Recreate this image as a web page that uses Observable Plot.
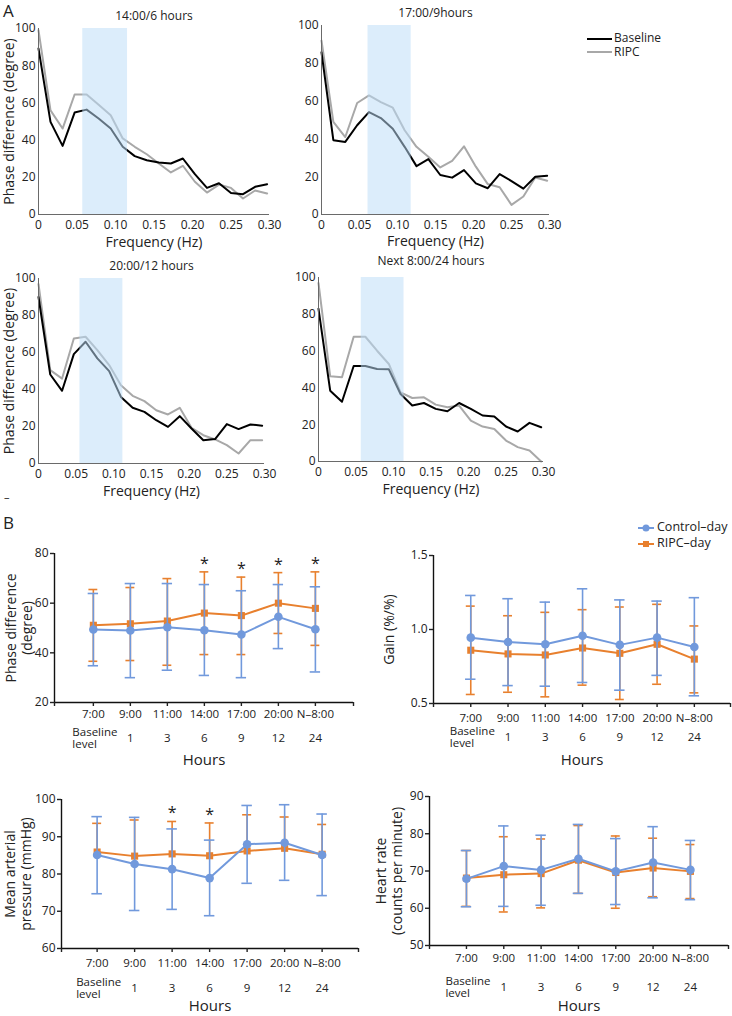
<!DOCTYPE html>
<html><head><meta charset="utf-8">
<script src="https://cdn.jsdelivr.net/npm/d3@7"></script>
<script src="https://cdn.jsdelivr.net/npm/@observablehq/plot@0.6"></script>
<style>
body{margin:0;background:#fff;font-family:"Open Sans",sans-serif;}
#root{position:relative;width:732px;height:1016px;overflow:hidden;background:#fff;}
.pnl{position:absolute;}
.lbl{position:absolute;font-family:"Open Sans",sans-serif;color:#222;white-space:nowrap;line-height:1;}
</style></head><body><div id="root"></div>
<script>
// ---------- Panel A data ----------
const freqs = [0,0.0156,0.0313,0.0469,0.0625,0.0781,0.0938,0.1094,0.125,0.1406,0.1563,0.1719,0.1875,0.2031,0.2188,0.2344,0.25,0.2656,0.2813,0.2969];
const panelTitles = ["14:00/6 hours","17:00/9hours","20:00/12 hours","Next 8:00/24 hours"];
const baseline6h  = [89.2,49.8,36.9,54.8,56.4,51.6,46.2,36.4,31.4,29.2,28.0,27.4,30.1,21.7,14.3,16.8,11.6,10.9,14.9,16.3];
const ripc6h      = [99.0,56.0,46.2,64.5,64.5,59.0,53.4,40.9,36.4,32.4,27.4,22.6,26.2,17.6,11.8,16.1,14.3,8.6,12.9,11.3];
const baseline9h  = [85.8,39.3,38.4,47.2,54.2,51.0,45.4,35.8,25.6,29.3,20.9,19.5,23.5,16.5,13.9,21.4,17.7,13.7,20.0,20.5];
const ripc9h      = [92.0,49.0,41.0,59.0,63.0,59.5,56.5,44.6,35.8,30.5,24.9,28.4,36.1,25.3,16.1,14.4,5.1,9.5,19.6,17.9];
const baseline12h = [90.0,48.1,39.3,59.1,65.8,56.8,49.9,36.0,30.1,27.9,23.4,19.8,25.6,18.9,12.6,13.2,21.3,18.6,21.1,20.4];
const ripc12h     = [97.0,50.5,45.9,67.6,68.5,61.3,53.2,42.3,36.6,33.7,28.8,26.5,30.1,19.3,15.3,13.0,9.9,5.4,12.6,12.6];
const baseline24h = [83.0,38.5,32.5,51.9,51.9,50.3,50.1,36.7,30.4,31.8,28.6,27.3,31.8,28.6,25.0,24.4,19.0,16.3,21.0,18.6];
const ripc24h     = [97.0,46.3,45.8,67.8,67.8,60.2,53.0,37.6,34.5,34.9,30.9,29.5,30.4,22.2,19.0,17.7,11.4,7.8,6.0,0.0];
const lfBands = [[0.0575,0.1156],[0.0612,0.118],[0.055,0.112],[0.057,0.114]];
const freqTicks = [0,0.05,0.10,0.15,0.20,0.25,0.30];
const phaseTicks = [0,20,40,60,80,100];
const seriesNamesA = ["Baseline","RIPC"];

// ---------- Panel B data ----------
const timeLabels = ["7:00","9:00","11:00","14:00","17:00","20:00","N\u20138:00"];
const hourLabels = ["Baseline\nlevel","1","3","6","9","12","24"];
const seriesNamesB = ["Control\u2013day","RIPC\u2013day"];

const pdControl   = [49.4,49.0,50.3,49.1,47.4,54.5,49.5];
const pdControlHi = [63.9,67.9,67.9,67.5,65.0,67.5,66.6];
const pdControlLo = [34.8,30.0,33.0,30.9,30.0,41.7,32.3];
const pdRipc      = [51.1,51.7,52.8,56.0,55.0,60.0,57.9];
const pdRipcHi    = [65.5,66.3,69.9,72.6,70.5,72.3,72.6];
const pdRipcLo    = [36.6,36.9,35.0,39.3,39.3,47.8,43.0];
const pdStars     = [0,0,0,1,1,1,1];

const gainControl   = [0.945,0.916,0.900,0.958,0.896,0.945,0.882];
const gainControlHi = [1.230,1.208,1.185,1.275,1.200,1.192,1.215];
const gainControlLo = [0.664,0.621,0.617,0.642,0.590,0.690,0.552];
const gainRipc      = [0.860,0.835,0.828,0.875,0.839,0.900,0.800];
const gainRipcHi    = [1.158,1.093,1.116,1.134,1.152,1.170,1.024];
const gainRipcLo    = [0.561,0.576,0.545,0.624,0.527,0.630,0.572];

const mapControl   = [85.1,82.7,81.3,78.9,88.0,88.4,85.1];
const mapControlHi = [95.4,95.2,92.1,89.1,98.4,98.6,96.1];
const mapControlLo = [74.7,70.2,70.5,68.8,77.5,78.3,74.2];
const mapRipc      = [85.9,84.8,85.4,84.9,86.2,86.9,85.3];
const mapRipcHi    = [93.6,94.5,94.1,93.7,95.9,95.3,93.3];
const mapStars     = [0,0,1,1,0,0,0];

const hrControl   = [67.9,71.3,70.3,73.3,69.9,72.3,70.3];
const hrControlHi = [75.5,82.1,79.6,82.5,78.7,81.9,78.2];
const hrControlLo = [60.4,60.5,60.8,64.0,61.0,62.8,62.3];
const hrRipc      = [68.1,69.0,69.3,72.9,69.6,70.8,69.9];
const hrRipcHi    = [75.5,79.2,78.6,82.2,79.4,78.8,77.1];
const hrRipcLo    = [60.5,59.0,60.1,64.0,60.0,63.1,62.6];

// ---------- styling ----------
const BLUE = "#7199dc", ORANGE = "#e8802e";
const root = document.getElementById("root");

function place(el, left, top){
  el.classList.add("pnl");
  el.style.left = left + "px"; el.style.top = top + "px";
  root.appendChild(el);
}
function label(text, left, top, size, extra){
  const d = document.createElement("div");
  d.className = "lbl"; d.textContent = text;
  d.style.left = left + "px"; d.style.top = top + "px"; d.style.fontSize = size + "px";
  if (extra) Object.assign(d.style, extra);
  root.appendChild(d);
}

function phasePanel(o){
  const base = freqs.map((f,i)=>({f, v:o.base[i]}));
  const ripc = freqs.map((f,i)=>({f, v:o.ripc[i]}));
  const marks = [
    Plot.line(ripc,{x:"f", y:"v", stroke:"#a8a8a8", strokeWidth:2}),
    Plot.line(base,{x:"f", y:"v", stroke:"#000", strokeWidth:2}),
    Plot.rect([o.band],{x1:d=>d[0], x2:d=>d[1], y1:0, y2:100, fill:"#bcdcf7", fillOpacity:0.52}),
    Plot.ruleY([0],{stroke:"#6a6a6a", strokeWidth:1}),
    Plot.ruleX([0],{stroke:"#6a6a6a", strokeWidth:1}),
    Plot.axisX({ticks:freqTicks, tickFormat:d=>d===0?"0":d.toFixed(2), tickSize:0, tickPadding:6, label:null, fontSize:12}),
    Plot.axisY({ticks:phaseTicks, tickSize:0, tickPadding:3, label:null, fontSize:12}),
    Plot.text([o.title],{text:d=>d, frameAnchor:"top", dy:o.titleDy, fontSize:12, lineAnchor:"middle", textAnchor:"middle"}),
    Plot.text(["Frequency (Hz)"],{text:d=>d, frameAnchor:"bottom", dy:o.xlDy, fontSize:14, lineAnchor:"middle", textAnchor:"middle"})
  ];
  if (o.yLabel) marks.push(Plot.text([o.yLabel],{text:d=>d, frameAnchor:"left", dx:o.ylDx, rotate:-90, fontSize:14, lineAnchor:"middle", textAnchor:"middle"}));
  const svg = Plot.plot({
    width:o.w, height:o.h, marginLeft:o.ml, marginRight:o.mr, marginTop:o.mt, marginBottom:o.mb,
    style:{fontFamily:"'Open Sans', sans-serif", color:"#222", background:"transparent", overflow:"visible"},
    x:{domain:[0,0.3]}, y:{domain:[0,100]},
    marks
  });
  place(svg, o.left, o.top);
}

phasePanel({left:0, top:0, w:280, h:255, ml:38, mr:11, mt:28, mb:41,
  base:baseline6h, ripc:ripc6h, band:lfBands[0], title:panelTitles[0], titleDy:-12, xlDy:28,
  yLabel:"Phase difference (degree)", ylDx:-29});
phasePanel({left:290, top:0, w:270, h:255, ml:31, mr:11, mt:25, mb:41,
  base:baseline9h, ripc:ripc9h, band:lfBands[1], title:panelTitles[1], titleDy:-12, xlDy:27});
phasePanel({left:0, top:250, w:280, h:255, ml:38, mr:16, mt:28, mb:42,
  base:baseline12h, ripc:ripc12h, band:lfBands[2], title:panelTitles[2], titleDy:-12, xlDy:28,
  yLabel:"Phase difference (degree)", ylDx:-29});
phasePanel({left:290, top:250, w:270, h:255, ml:28, mr:17, mt:27, mb:44,
  base:baseline24h, ripc:ripc24h, band:lfBands[3], title:panelTitles[3], titleDy:-16, xlDy:28});

// Legend A
(function(){
  const ns = "http://www.w3.org/2000/svg";
  const svg = document.createElementNS(ns,"svg");
  svg.setAttribute("width",80); svg.setAttribute("height",30);
  [["#000",6],["#a8a8a8",19]].forEach(([c,y])=>{
    const l = document.createElementNS(ns,"line");
    l.setAttribute("x1",0); l.setAttribute("x2",25); l.setAttribute("y1",y); l.setAttribute("y2",y);
    l.setAttribute("stroke",c); l.setAttribute("stroke-width",2); svg.appendChild(l);
  });
  place(svg, 587, 33);
  label(seriesNamesA[0], 614, 32, 12);
  label(seriesNamesA[1], 614, 46, 12);
})();

function timePanel(o){
  const idx = timeLabels.map((_,i)=>i);
  const ctrl = idx.map(i=>({i, v:o.c[i], lo:o.cLo[i], hi:o.cHi[i]}));
  const rip = idx.map(i=>({i, v:o.r[i], lo:o.rLo?o.rLo[i]:o.r[i], hi:o.rHi[i], star:o.stars?o.stars[i]:0}));
  const marks = [];
  function series(d, color, symbol, r, hw, lower){
    marks.push(Plot.ruleX(d,{x:"i", y1:"lo", y2:"hi", stroke:color, strokeWidth:1.6}));
    marks.push(Plot.ruleY(d,{y:"hi", x1:e=>e.i-hw, x2:e=>e.i+hw, stroke:color, strokeWidth:1.6}));
    if (lower) marks.push(Plot.ruleY(d,{y:"lo", x1:e=>e.i-hw, x2:e=>e.i+hw, stroke:color, strokeWidth:1.6}));
    marks.push(Plot.line(d,{x:"i", y:"v", stroke:color, strokeWidth:2}));
    marks.push(Plot.dot(d,{x:"i", y:"v", fill:color, symbol, r, stroke:null}));
  }
  series(rip, ORANGE, "square", 4, 0.12, !!o.rLo);
  series(ctrl, BLUE, "circle", 4.3, 0.14, true);
  marks.push(Plot.text(rip.filter(d=>d.star),{x:"i", y:"hi", text:()=> "*", dy:-3, fontSize:16, lineAnchor:"bottom", fill:"#222"}));
  marks.push(
    Plot.ruleX([o.xd[0]],{stroke:"#111", strokeWidth:1.4}),
    Plot.ruleY([o.yd[0]],{stroke:"#111", strokeWidth:1.4}),
    Plot.axisY({ticks:o.yTicks, tickFormat:o.yFmt, tickSize:4, tickPadding:2, label:null, fontSize:12, strokeWidth:1.4}),
    Plot.axisX({ticks:[o.xd[0], ...idx, o.xd[1]], tickFormat:v=> (Number.isInteger(v) && v>=0 && v<timeLabels.length) ? timeLabels[v] : "",
      tickSize:4, tickPadding:o.tp, label:null, fontSize:11.5, strokeWidth:1.4}),
    Plot.text(idx.slice(1),{x:d=>d, text:d=>hourLabels[d], frameAnchor:"bottom", dy:o.r2dy, fontSize:11.5, lineAnchor:"middle", textAnchor:"middle"}),
    Plot.text([0],{x:d=>d, text:d=>hourLabels[d], frameAnchor:"bottom", dy:o.r2dy, dx:-21, textAnchor:"start", fontSize:11.5, lineAnchor:"middle", lineHeight:1.05}),
    Plot.text(["Hours"],{text:d=>d, frameAnchor:"bottom", dy:o.hDy, fontSize:15, lineAnchor:"middle", textAnchor:"middle"}),
    Plot.text([o.yLabel],{text:d=>d, frameAnchor:"left", dx:o.ylDx, rotate:-90, fontSize:14, lineAnchor:"middle", textAnchor:"middle", lineHeight:1.15})
  );
  const svg = Plot.plot({
    width:o.w, height:o.h, marginLeft:o.ml, marginRight:o.mr, marginTop:o.mt, marginBottom:o.mb,
    style:{fontFamily:"'Open Sans', sans-serif", color:"#222", background:"transparent", overflow:"visible"},
    x:{domain:o.xd}, y:{domain:o.yd},
    marks
  });
  place(svg, o.left, o.top);
}

timePanel({left:0, top:530, w:366, h:240, ml:54, mr:13, mt:23, mb:68, xd:[-1.05,7.03], yd:[20,80],
  yTicks:[20,40,60,80], yFmt:d=>d, tp:3, r2dy:36, hDy:58,
  c:pdControl, cLo:pdControlLo, cHi:pdControlHi, r:pdRipc, rLo:pdRipcLo, rHi:pdRipcHi, stars:pdStars,
  yLabel:"Phase difference\n(degree)", ylDx:-36});
timePanel({left:366, top:530, w:366, h:240, ml:67, mr:2, mt:25, mb:67, xd:[-1.0,6.97], yd:[0.5,1.5],
  yTicks:[0.5,1.0,1.5], yFmt:d3.format(".1f"), tp:6, r2dy:34, hDy:57,
  c:gainControl, cLo:gainControlLo, cHi:gainControlHi, r:gainRipc, rLo:gainRipcLo, rHi:gainRipcHi,
  yLabel:"Gain (%/%)", ylDx:-45});
timePanel({left:0, top:770, w:366, h:246, ml:61, mr:8, mt:29, mb:68, xd:[-0.95,6.97], yd:[60,100],
  yTicks:[60,70,80,90,100], yFmt:d=>d, tp:6, r2dy:40, hDy:58,
  c:mapControl, cLo:mapControlLo, cHi:mapControlHi, r:mapRipc, rLo:null, rHi:mapRipcHi, stars:mapStars,
  yLabel:"Mean arterial\npressure (mmHg)", ylDx:-44});
timePanel({left:366, top:770, w:366, h:246, ml:63, mr:4, mt:26, mb:71, xd:[-0.99,7.02], yd:[50,90],
  yTicks:[50,60,70,80,90], yFmt:d=>d, tp:4, r2dy:42, hDy:61,
  c:hrControl, cLo:hrControlLo, cHi:hrControlHi, r:hrRipc, rLo:hrRipcLo, rHi:hrRipcHi,
  yLabel:"Heart rate\n(counts per minute)", ylDx:-41});

// Legend B
(function(){
  const ns = "http://www.w3.org/2000/svg";
  const svg = document.createElementNS(ns,"svg");
  svg.setAttribute("width",20); svg.setAttribute("height",26);
  [[BLUE,5,"c"],[ORANGE,21,"s"]].forEach(([c,y,t])=>{
    const l = document.createElementNS(ns,"line");
    l.setAttribute("x1",0); l.setAttribute("x2",16); l.setAttribute("y1",y); l.setAttribute("y2",y);
    l.setAttribute("stroke",c); l.setAttribute("stroke-width",2); svg.appendChild(l);
    let m;
    if (t==="c"){ m = document.createElementNS(ns,"circle"); m.setAttribute("cx",8); m.setAttribute("cy",y); m.setAttribute("r",3.5); }
    else { m = document.createElementNS(ns,"rect"); m.setAttribute("x",5); m.setAttribute("y",y-3); m.setAttribute("width",6); m.setAttribute("height",6); }
    m.setAttribute("fill",c); svg.appendChild(m);
  });
  place(svg, 638, 523);
  label(seriesNamesB[0], 657, 521, 12.5);
  label(seriesNamesB[1], 657, 537, 12.5);
})();

label("A", 3, 2, 17);
label("B", 3, 514, 17);
label("\u2013", 4, 491, 11);
</script></body></html>
